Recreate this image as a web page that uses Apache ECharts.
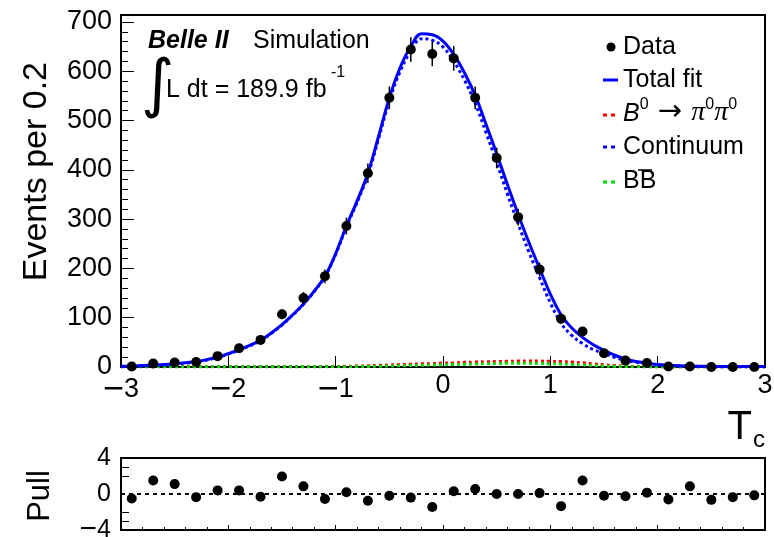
<!DOCTYPE html>
<html>
<head>
<meta charset="utf-8">
<script src="https://cdn.jsdelivr.net/npm/echarts@6/dist/echarts.min.js"></script>
<style>
  html, body { margin: 0; padding: 0; background: #fff; }
  #chart { width: 774px; height: 537px; }
</style>
</head>
<body>
<div id="chart"></div>
<script>
// bin centres (width 0.2) and data
const binCenters = [-2.9, -2.7, -2.5, -2.3, -2.1, -1.9, -1.7, -1.5, -1.3, -1.1, -0.9, -0.7, -0.5, -0.3, -0.1,
  0.1, 0.3, 0.5, 0.7, 0.9, 1.1, 1.3, 1.5, 1.7, 1.9, 2.1, 2.3, 2.5, 2.7, 2.9]
const dataCounts = [1, 7, 9, 10, 22, 38, 55, 107, 140, 184, 286, 393, 546, 644, 635,
  626, 546, 424, 304, 198, 98, 72, 28, 13, 8, 1, 1, 0, 0, 0]
const dataErrors = [1, 3, 3, 3, 5, 6, 7, 10, 12, 14, 17, 20, 23, 25, 25,
  25, 23, 21, 17, 14, 10, 8, 5, 4, 3, 1, 1, 0, 0, 0]
const pullValues = [-0.5, 1.5, 1.1, -0.35, 0.4, 0.4, -0.3, 1.95, 0.85, -0.55, 0.2, -0.75, -0.2, -0.4, -1.45,
  0.3, 0.55, 0, 0, 0.1, -1.35, 1.5, -0.2, -0.25, 0.15, -0.6, 0.85, -0.65, -0.35, -0.15]

// fit curves sampled every 0.1
const curveT = [-3.0, -2.9, -2.8, -2.7, -2.6, -2.5, -2.4, -2.3, -2.2, -2.1, -2.0, -1.9, -1.8, -1.7, -1.6, -1.5,
  -1.4, -1.3, -1.2, -1.1, -1.0, -0.9, -0.8, -0.7, -0.6, -0.5, -0.4, -0.3, -0.2, -0.1, 0.0,
  0.1, 0.2, 0.3, 0.4, 0.5, 0.6, 0.7, 0.8, 0.9, 1.0, 1.1, 1.2, 1.3, 1.4, 1.5,
  1.6, 1.7, 1.8, 1.9, 2.0, 2.1, 2.2, 2.3, 2.4, 2.5, 2.6, 2.7, 2.8, 2.9, 3.0]
const totalFit = [1.5, 2, 3, 4, 5, 6.5, 8.5, 11, 15, 20, 27, 35, 44, 54, 69, 86,
  106, 128, 154, 184, 230, 286, 337, 393, 468, 546, 607, 650, 676, 674, 661,
  634, 597, 551, 493, 433, 370, 310, 253, 200, 148, 106, 79, 60, 45, 34,
  24, 16, 11, 7.5, 5, 3.5, 2.5, 2, 1.5, 1.2, 1, 1, 1, 1, 1]
const continuum = [0.7, 1.2, 2.2, 3.2, 4.2, 5.7, 7.7, 10.2, 14.2, 19.2, 26.2, 34.2, 43.2, 53.2, 68.2, 85.2,
  105.2, 127.2, 153.1, 182.9, 228.6, 283.9, 334.2, 389.3, 463, 540, 599, 641, 666, 663, 649,
  620, 582, 535, 476, 415, 351, 290.5, 233.5, 181, 130, 89, 64, 47.5, 35.5, 27.5,
  19.7, 13.4, 9.5, 6.6, 4.5, 3.1, 2.1, 1.6, 1.1, 0.8, 0.6, 0.6, 0.6, 0.6, 0.6]
const signalPdf = [0.5, 0.5, 0.5, 0.5, 0.5, 0.5, 0.5, 0.5, 0.5, 0.5, 0.5, 0.5, 0.5, 0.5, 0.5, 0.5,
  0.5, 0.5, 0.6, 0.8, 1, 1.5, 2, 2.5, 3.5, 4, 5, 5.5, 6.5, 7, 8,
  8.5, 9.5, 10, 10.5, 11, 11.5, 12, 12, 12, 11.5, 11, 10, 8.5, 6.5, 4.5,
  3, 1.8, 1, 0.6, 0.3, 0.2, 0.2, 0.2, 0.2, 0.2, 0.2, 0.2, 0.2, 0.2, 0.2]
const bbbarPdf = [0.3, 0.3, 0.3, 0.3, 0.3, 0.3, 0.3, 0.3, 0.3, 0.3, 0.3, 0.3, 0.3, 0.3, 0.3, 0.3,
  0.3, 0.3, 0.3, 0.3, 0.4, 0.6, 0.8, 1.2, 1.5, 2, 2.5, 3, 3.5, 4, 4.5,
  5, 5.5, 6, 6.5, 7, 7.5, 7.5, 7.5, 7, 6.5, 6, 5, 4, 3, 2,
  1.3, 0.8, 0.5, 0.3, 0.2, 0.2, 0.2, 0.2, 0.2, 0.2, 0.2, 0.2, 0.2, 0.2, 0.2]

const FONT = '"Liberation Sans", Arial, sans-serif'

function zip(xs, ys) {
  return xs.map((x, i) => [x, ys[i]])
}

// ROOT style long minus
function minusLabel(v) {
  return v < 0 ? '{m|\u2212}{n|' + Math.abs(v) + '}' : '{n|' + v + '}'
}

const chart = echarts.init(document.getElementById('chart'))

const option = {
  animation: false,
  textStyle: { fontFamily: FONT, color: '#000' },
  grid: [
    { left: 121, right: 9, top: 15, height: 352, outerBoundsMode: 'none', show: true, borderColor: '#000', borderWidth: 2, backgroundColor: 'transparent' },
    { left: 121, right: 9, top: 458, height: 72, outerBoundsMode: 'none', show: true, borderColor: '#000', borderWidth: 2, backgroundColor: 'transparent' }
  ],
  xAxis: [
    {
      gridIndex: 0, type: 'value', min: -3, max: 3, interval: 1,
      axisLine: { show: true, onZero: false, lineStyle: { color: '#000', width: 2 } },
      axisTick: { show: true, inside: true, length: 11, lineStyle: { color: '#000', width: 1 } },
      splitLine: { show: false },
      axisLabel: {
        color: '#000', margin: 5,
        formatter: minusLabel,
        rich: {
          m: { fontSize: 36, fontFamily: FONT, color: '#000' },
          n: { fontSize: 27, fontFamily: FONT, color: '#000' }
        }
      }
    },
    {
      gridIndex: 1, type: 'value', min: -3, max: 3, interval: 1,
      axisLine: { show: true, onZero: false, lineStyle: { color: '#000', width: 2 } },
      axisTick: { show: true, inside: true, length: 5, lineStyle: { color: '#000', width: 1 } },
      minorTick: { show: true, splitNumber: 5, length: 3, lineStyle: { color: '#000', width: 1 } },
      splitLine: { show: false },
      axisLabel: { show: false }
    }
  ],
  yAxis: [
    {
      gridIndex: 0, type: 'value', min: 0, max: 714, interval: 100,
      axisLine: { show: true, onZero: false, lineStyle: { color: '#000', width: 2 } },
      axisTick: { show: true, inside: true, length: 13, lineStyle: { color: '#000', width: 1 } },
      minorTick: { show: true, splitNumber: 5, length: 7, lineStyle: { color: '#000', width: 1 } },
      splitLine: { show: false },
      axisLabel: {
        fontSize: 27, color: '#000', fontFamily: FONT, margin: 9,
        showMaxLabel: false
      }
    },
    {
      gridIndex: 1, type: 'value', min: -4, max: 4, interval: 4,
      axisLine: { show: true, onZero: false, lineStyle: { color: '#000', width: 2 } },
      axisTick: { show: true, inside: true, length: 8, customValues: [-3, -2, 2, 3], lineStyle: { color: '#000', width: 1 } },
      splitLine: { show: false },
      axisLabel: {
        color: '#000', margin: 10,
        formatter: minusLabel,
        rich: {
          m: { fontSize: 30, fontFamily: FONT, color: '#000' },
          n: { fontSize: 25, fontFamily: FONT, color: '#000' }
        }
      }
    }
  ],
  series: [
    {
      name: 'BB', type: 'line', xAxisIndex: 0, yAxisIndex: 0,
      data: zip(curveT, bbbarPdf), smooth: 0.4, symbol: 'none',
      lineStyle: { color: '#00e000', width: 3, type: [3, 3] }, z: 3
    },
    {
      name: 'Signal', type: 'line', xAxisIndex: 0, yAxisIndex: 0,
      data: zip(curveT, signalPdf), smooth: 0.4, symbol: 'none',
      lineStyle: { color: '#ff0000', width: 3, type: [3, 3] }, z: 2
    },
    {
      name: 'Continuum', type: 'line', xAxisIndex: 0, yAxisIndex: 0,
      data: zip(curveT, continuum), smooth: 0.4, symbol: 'none',
      lineStyle: { color: '#0000ff', width: 3, type: [3, 3] }, z: 4
    },
    {
      name: 'Total fit', type: 'line', xAxisIndex: 0, yAxisIndex: 0,
      data: zip(curveT, totalFit), smooth: 0.4, symbol: 'none',
      lineStyle: { color: '#0000ff', width: 3 }, z: 5
    },
    {
      name: 'Data errors', type: 'custom', xAxisIndex: 0, yAxisIndex: 0,
      data: binCenters.map((x, i) => [x, dataCounts[i], dataErrors[i]]),
      clip: true, z: 6,
      renderItem: function (params, api) {
        const x = api.value(0), y = api.value(1), e = api.value(2)
        const p1 = api.coord([x, y + e])
        const p2 = api.coord([x, y - e])
        return {
          type: 'line',
          shape: { x1: p1[0], y1: p1[1], x2: p2[0], y2: p2[1] },
          style: { stroke: '#000', lineWidth: 1.5 }
        }
      }
    },
    {
      name: 'Data', type: 'scatter', xAxisIndex: 0, yAxisIndex: 0,
      data: zip(binCenters, dataCounts), symbol: 'circle', symbolSize: 10,
      itemStyle: { color: '#000', opacity: 1 }, z: 7
    },
    {
      name: 'Pull', type: 'scatter', xAxisIndex: 1, yAxisIndex: 1,
      data: zip(binCenters, pullValues), symbol: 'circle', symbolSize: 10,
      itemStyle: { color: '#000', opacity: 1 }, z: 7,
      markLine: {
        silent: true, symbol: 'none', label: { show: false },
        lineStyle: { color: '#000', width: 2, type: [4, 4] },
        data: [{ yAxis: 0 }]
      }
    }
  ],
  graphic: [
    // labels
    { type: 'text', x: 148, y: 41, style: { text: 'Belle II', font: 'italic bold 25px ' + FONT, fill: '#000', textVerticalAlign: 'middle' } },
    { type: 'text', x: 253, y: 41, style: { text: 'Simulation', font: '25px ' + FONT, fill: '#000', textVerticalAlign: 'middle' } },
    { type: 'text', x: 141, y: 88, style: { text: '\u222B', font: '64px "DejaVu Sans", sans-serif', fill: '#000', textVerticalAlign: 'middle' } },
    { type: 'text', x: 166, y: 90, style: { text: 'L dt = 189.9 fb', font: '25px ' + FONT, fill: '#000', textVerticalAlign: 'middle' } },
    { type: 'text', x: 331, y: 73, style: { text: '-1', font: '16px ' + FONT, fill: '#000', textVerticalAlign: 'middle' } },

    // axis titles
    { type: 'text', x: 37, y: 62, rotation: Math.PI / 2, style: { text: 'Events per 0.2', font: '34px ' + FONT, fill: '#000', textAlign: 'right', textVerticalAlign: 'middle' } },
    { type: 'text', x: 752, y: 428, style: { text: 'T', font: '40px ' + FONT, fill: '#000', textAlign: 'right', textVerticalAlign: 'middle' } },
    { type: 'text', x: 753, y: 440, style: { text: 'c', font: '24px ' + FONT, fill: '#000', textVerticalAlign: 'middle' } },
    { type: 'text', x: 40, y: 496, rotation: Math.PI / 2, style: { text: 'Pull', font: '31px ' + FONT, fill: '#000', textAlign: 'center', textVerticalAlign: 'middle' } },

    // legend
    { type: 'circle', shape: { cx: 611, cy: 47, r: 4.5 }, style: { fill: '#000' } },
    { type: 'text', x: 623, y: 47, style: { text: 'Data', font: '25px ' + FONT, fill: '#000', textVerticalAlign: 'middle' } },
    { type: 'line', shape: { x1: 603, y1: 80, x2: 618, y2: 80 }, style: { stroke: '#0000ff', lineWidth: 3 } },
    { type: 'text', x: 623, y: 80, style: { text: 'Total fit', font: '25px ' + FONT, fill: '#000', textVerticalAlign: 'middle' } },
    { type: 'line', shape: { x1: 603, y1: 115, x2: 618, y2: 115 }, style: { stroke: '#ff0000', lineWidth: 3, lineDash: [4, 4] } },
    {
      type: 'text', x: 623, y: 112,
      style: {
        text: '{b|B}{s|0}{t| \u2192 }{p|\u03C0}{s|0}{p|\u03C0}{s|0}',
        fill: '#000', textVerticalAlign: 'middle',
        rich: {
          b: { font: 'italic 25px ' + FONT, lineHeight: 30, verticalAlign: 'bottom' },
          t: { font: '29px "DejaVu Sans", sans-serif', lineHeight: 30, verticalAlign: 'bottom' },
          p: { font: 'italic 28px "Liberation Serif", serif', lineHeight: 30, verticalAlign: 'bottom' },
          s: { font: '16px ' + FONT, lineHeight: 18, verticalAlign: 'top' }
        }
      }
    },
    { type: 'line', shape: { x1: 603, y1: 147, x2: 618, y2: 147 }, style: { stroke: '#0000ff', lineWidth: 3, lineDash: [4, 4] } },
    { type: 'text', x: 623, y: 147, style: { text: 'Continuum', font: '25px ' + FONT, fill: '#000', textVerticalAlign: 'middle' } },
    { type: 'line', shape: { x1: 603, y1: 182, x2: 618, y2: 182 }, style: { stroke: '#00e000', lineWidth: 3, lineDash: [4, 4] } },
    { type: 'text', x: 623, y: 181, style: { text: 'BB', font: '25px ' + FONT, fill: '#000', textVerticalAlign: 'middle' } },
    { type: 'line', shape: { x1: 638, y1: 170, x2: 652, y2: 170 }, style: { stroke: '#000', lineWidth: 1.5 } }
  ]
}

chart.setOption(option)
</script>
</body>
</html>
